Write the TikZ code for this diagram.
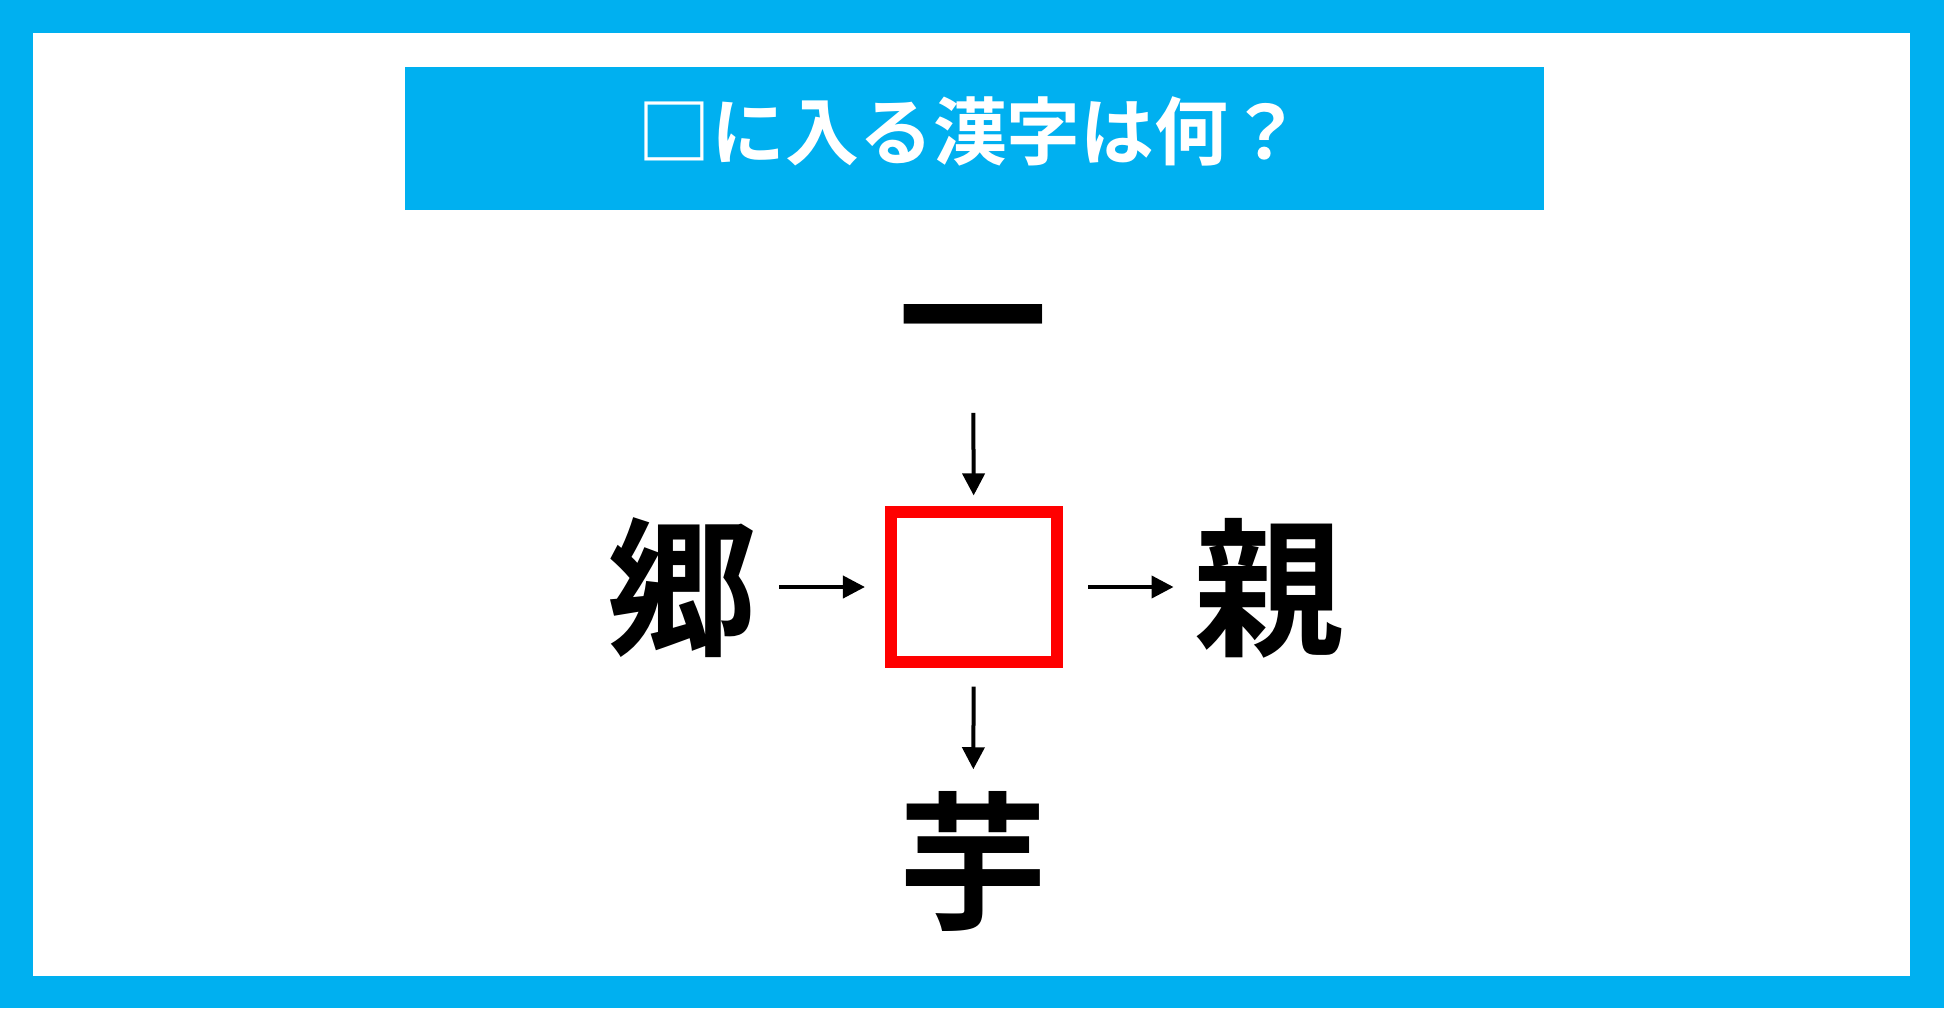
\documentclass[tikz,border=0pt]{standalone}
\usepackage{fontspec}
\newfontfamily\jpfont{Noto Sans CJK JP}[BoldFont={Noto Sans CJK JP Bold}]
\usetikzlibrary{arrows.meta, positioning}
\definecolor{quizblue}{RGB}{0, 176, 240}
\definecolor{blankred}{RGB}{255, 0, 0}

\begin{document}
\begin{tikzpicture}[x=0.01cm, y=-0.01cm,
  kanji/.style={font=\jpfont\bfseries\fontsize{42.5}{50}\selectfont, inner sep=0pt, text height=1.32cm, text depth=0.18cm},
  link/.style={line width=0.04cm, -{Triangle[length=0.22cm, width=0.22cm]}, shorten <=0.22cm, shorten >=0.2cm}]
  % Frame
  \fill[quizblue] (0, 0) rectangle (1944, 1008);
  \fill[white] (33, 33) rectangle (1910, 976);

  % Title bar
  \node[fill=quizblue, minimum width=11.39cm, minimum height=1.43cm, inner sep=0pt] (titlebar) at (974.5, 138.5) {};
  \node[font=\jpfont\bfseries\fontsize{21}{25}\selectfont, text=white, inner sep=0pt] (titletext) at (970, 131) {□に入る漢字は何？};

  % Blank box in the middle
  \node[draw=blankred, line width=0.12cm, minimum width=1.66cm, minimum height=1.49cm, inner sep=0pt] (blank) at (974, 587) {};

  % Kanji round the blank
  \node[kanji] (top) at (973, 315) {一};
  \node[kanji] (left) at (682, 587) {郷};
  \node[kanji] (right) at (1269, 587) {親};
  \node[kanji] (bottom) at (973, 861) {芋};

  % Arrows
  \draw[link, shorten >=0.11cm] (top) -- (blank);
  \draw[link] (left) -- (blank);
  \draw[link, shorten <=0.25cm] (blank) -- (right);
  \draw[link, shorten <=0.19cm, shorten >=0.16cm] (blank) -- (bottom);
\end{tikzpicture}
\end{document}
